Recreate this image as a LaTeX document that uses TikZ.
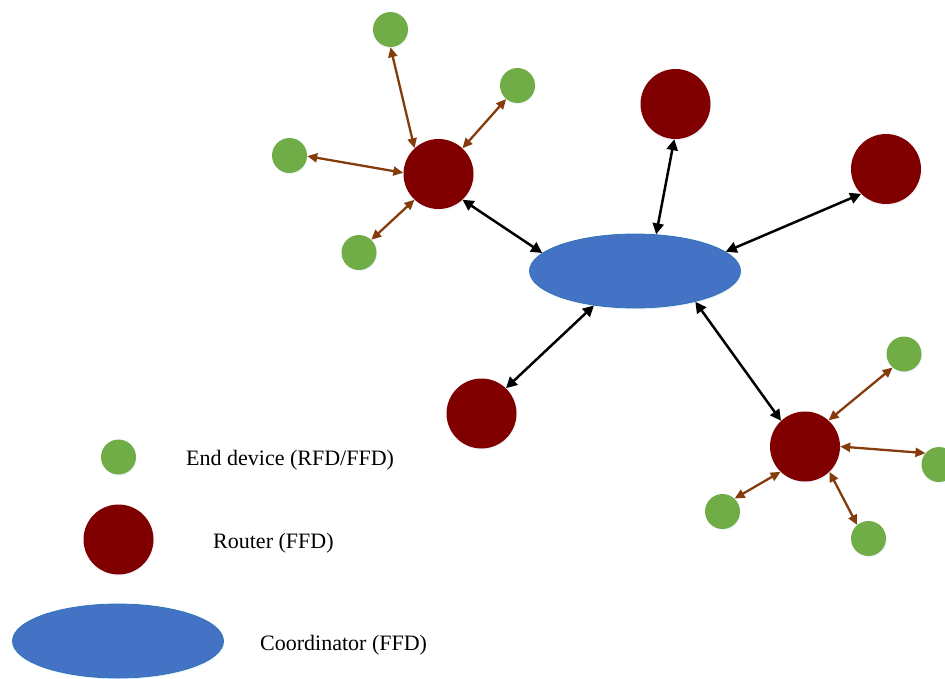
\documentclass[tikz,border=0pt]{standalone}
\usepackage{fontspec}
\setmainfont{Liberation Serif}
\usetikzlibrary{shapes.geometric,arrows.meta,shadows}
\definecolor{devgreen}{HTML}{70AD47}
\definecolor{routred}{HTML}{800000}
\definecolor{coordblue}{HTML}{4472C4}
\definecolor{coordline}{HTML}{2E75B6}
\definecolor{linkbrown}{HTML}{843C0C}
\tikzset{
  net_node/.style = {inner sep=0pt,
    drop shadow={shadow xshift=0.8pt, shadow yshift=-1.5pt, opacity=0.18, fill=coordblue!40}},
  net_e/.style = {net_node, circle, fill=devgreen, minimum size=35pt},% end device
  net_r/.style = {net_node, circle, fill=routred, minimum size=70pt},% router
  net_c/.style = {net_node, ellipse, fill=coordblue, draw=coordline,
    line width=0.8pt, minimum width=211pt, minimum height=74pt},% coordinator
  link_b/.style = {{Triangle[length=11pt,width=11pt]}-{Triangle[length=11pt,width=11pt]},
    line width=2.5pt, black},% coordinator - router
  link_o/.style = {{Triangle[length=10pt,width=9pt]}-{Triangle[length=10pt,width=9pt]},
    line width=2.3pt, linkbrown},% router - end device
  legend/.style = {anchor=base west, inner sep=0pt, font=\fontsize{22}{26}\selectfont}
}

\begin{document}
\begin{tikzpicture}[x=1pt,y=-1pt]
    \useasboundingbox (0,0) rectangle (945,678);
    % coordinator
    \node [net_c] (C) at (635,271) {};
    % routers
    \node [net_r] (R1) at (438.5,174) {};
    \node [net_r] (R2) at (675.5,104) {};
    \node [net_r] (R3) at (886,169) {};
    \node [net_r] (R4) at (481.5,413.5) {};
    \node [net_r] (R5) at (805,446.5) {};
    % end devices
    \node [net_e] (E1) at (390.5,29.5) {};
    \node [net_e] (E2) at (517.5,85.5) {};
    \node [net_e] (E3) at (289.5,155.5) {};
    \node [net_e] (E4) at (359,252.5) {};
    \node [net_e] (E5) at (904,354) {};
    \node [net_e] (E6) at (939,464.5) {};
    \node [net_e] (E7) at (722.5,511.5) {};
    \node [net_e] (E8) at (868.5,538.5) {};

    \draw [link_b] (R1.313) -- (C.169);
    \draw [link_b] (R2.268) -- (C.60);
    \draw [link_b] (R3.225) -- (C.12);
    \draw [link_b] (R4.46) -- (C.220);
    \draw [link_b] (R5.133) -- (C.333);

    \draw [link_o] (E1.270) -- (R1.133);
    \draw [link_o] (E2.230) -- (R1.47);
    \draw [link_o] (E3.358) -- (R1.178);
    \draw [link_o] (E4.46) -- (R1.227);
    \draw [link_o] (E5.230) -- (R5.48);
    \draw [link_o] (E6.140) -- (R5.0);
    \draw [link_o] (E7.47) -- (R5.226);
    \draw [link_o] (E8.130) -- (R5.314);

    % legend
    \node [net_e] (LE) at (118.5,457) {};
    \node [net_r] (LR) at (118.5,539.5) {};
    \node [net_c] (LC) at (118,641) {};
    \node [legend] (TE) at (186,465) {End device (RFD/FFD)};
    \node [legend] (TR) at (213,548) {Router (FFD)};
    \node [legend] (TC) at (260,650) {Coordinator (FFD)};
\end{tikzpicture}
\end{document}
